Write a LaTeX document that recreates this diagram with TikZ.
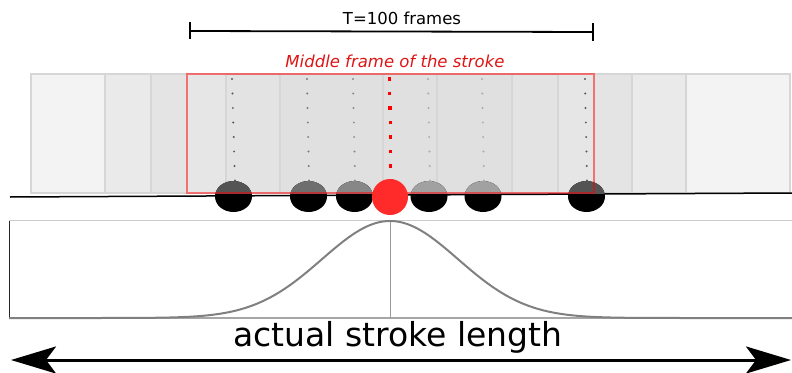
\documentclass[tikz,border=0pt]{standalone}
\usepackage{fontspec}
\setmainfont{DejaVu Sans}
\usetikzlibrary{shapes.geometric,arrows.meta}
\definecolor{redtxt}{RGB}{222,20,20}
\definecolor{redball}{RGB}{255,42,42}
\definecolor{framefill1}{RGB}{243,243,243}
\definecolor{framefill2}{RGB}{234,234,234}
\definecolor{framefill3}{RGB}{228,228,228}
\definecolor{framefill4}{RGB}{230,230,230}
\definecolor{framefill5}{RGB}{227,227,227}
\definecolor{framefill6}{RGB}{224,224,224}
\definecolor{frameedge}{RGB}{214,214,214}
\tikzset{
  framebox/.style={draw=frameedge, line width=1.5pt},
  blob/.style={ellipse, fill=black, minimum width=37pt, minimum height=31pt, inner sep=0pt},
  dotmark/.style={circle, inner sep=0pt, minimum size=2.2pt},
  reddot/.style={rectangle, fill=red, inner sep=0pt, minimum size=3.2pt},
  lbl/.style={inner sep=0pt, anchor=base},
}
\begin{document}
\begin{tikzpicture}[x=1pt,y=-1pt]
\useasboundingbox (0,0) rectangle (792,372);
% stacked frames
\fill[framefill1] (31,74) rectangle (790,193);
\draw[framebox] (31,74) rectangle (790,193);
\fill[framefill2] (105,74) rectangle (686,193);
\draw[framebox] (105,74) rectangle (686,193);
\fill[framefill3] (151,74) rectangle (632,193);
\draw[framebox] (151,74) rectangle (632,193);
\fill[framefill4] (187,74) rectangle (594,193);
\fill[framefill5] (226,74) rectangle (558,193);
\draw[framebox] (226,74) rectangle (558,193);
\fill[framefill6] (280,74) rectangle (512,193);
\draw[framebox] (280,74) rectangle (512,193);
\draw[framebox] (383,74) rectangle (437,193);
% dotted columns
\foreach \xa/\xb/\c in {232/235/black!65, 307/309/black!52, 353/355/black!45, 428/430/black!33, 482/484/black!33, 585/587/black!65}{
  \foreach \k in {0,...,7}{
    \node[dotmark, fill=\c] at ({\xa+(\xb-\xa)*\k/7}, {79+14.5*\k}) {};
  }
}
\foreach \k in {0,...,7}{
  \node[reddot] at ({389.5+1.5*\k/7}, {79+14.5*\k}) {};
}
% baseline
\coordinate (bl) at (10,197);
\coordinate (br) at (792,193);
\draw[line width=1.5pt] (bl) -- (br);
% blobs
\node[blob] (e1) at (233.5,196.5) {};
\node[blob] (e2) at (308.5,196.5) {};
\node[blob] (e3) at (354.5,196.5) {};
\node[blob] (e5) at (429,196.5) {};
\node[blob] (e6) at (483,196.5) {};
\node[blob] (e7) at (586.5,196.5) {};
\begin{scope}
\clip (0,0) rectangle (792,193);
\foreach \n/\c in {e1/black!67, e2/black!57, e3/black!47, e5/black!37, e6/black!37, e7/black!67}{
  \fill[\c] (\n.center) ellipse [x radius=18.5, y radius=15.5];
}
\end{scope}
% middle frame outline
\draw[red, opacity=0.5, line width=1.5pt] (187,74) rectangle (594,193);
\node[circle, fill=redball, minimum size=36pt, inner sep=0pt] (e4) at (390,197) {};
% labels
\node[lbl, text=redtxt, font=\fontsize{16.5}{18}\selectfont\itshape] (mid) at (395,67) {Middle frame of the stroke};
\node[lbl, font=\fontsize{16.5}{18}\selectfont] (tlab) at (402,24) {T=100 frames};
% scale bar
\coordinate (tl) at (190,31);
\coordinate (tr) at (593,32);
\draw[line width=1.8pt] (tl) -- (tr);
\draw[line width=1.8pt] (190,22) -- (190,39);
\draw[line width=1.8pt] (593,23) -- (593,41);
% bottom panel
\coordinate (pl) at (9,220);
\coordinate (pb) at (9,318);
\coordinate (pr) at (792,220);
\coordinate (prb) at (792,318);
\draw[black!85, line width=0.8pt] (pl) -- (pb);
\draw[black!20, line width=1pt] (pl) -- (pr);
\draw[black!35, line width=1.2pt] (pb) -- (prb);
\draw[black!40, line width=1pt] (390,220) -- (390,318);
\draw[black!50, line width=2pt] plot[domain=9:792, samples=240] (\x, {318-97*exp(-0.5*((\x-390)/68)^2)});
\node[lbl, font=\fontsize{33}{36}\selectfont] (asl) at (398,346) {actual stroke length};
% double arrow
\coordinate (al) at (11,360);
\coordinate (ar) at (791,360);
\draw[line width=3pt, {Stealth[length=45pt, width=27pt, inset=10pt]}-{Stealth[length=45pt, width=27pt, inset=10pt]}] (al) -- (ar);
\end{tikzpicture}
\end{document}
